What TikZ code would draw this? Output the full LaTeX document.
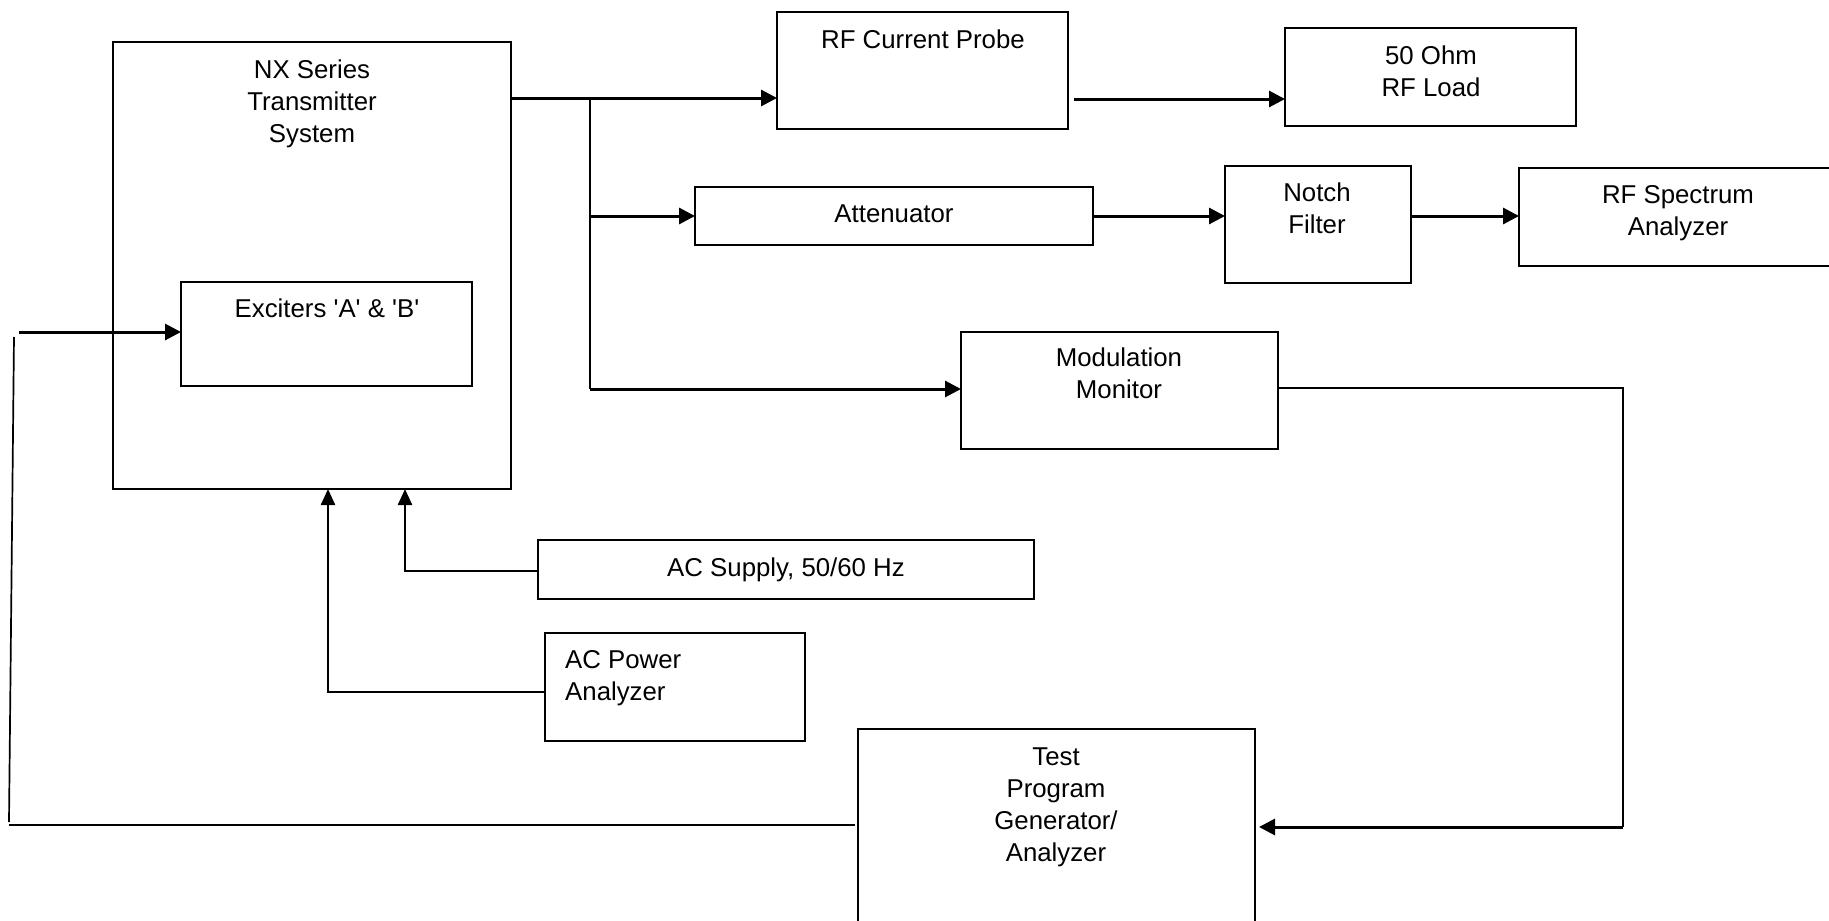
\documentclass[tikz,border=0pt]{standalone}
\usepackage{fontspec}
\setmainfont{Liberation Sans}[Ligatures=TeXOff]
\usetikzlibrary{arrows.meta}
\begin{document}
\begin{tikzpicture}[x=1pt,y=-1pt,
  box/.style={draw,line width=2pt,inner sep=0pt,outer sep=0pt},
  lbl/.style={font=\fontsize{25.8}{31.7}\selectfont,align=center,inner sep=0pt,anchor=base},
  lbll/.style={font=\fontsize{25.8}{31.7}\selectfont,align=left,inner sep=0pt,anchor=base west},
  arr/.style={-{Triangle[length=16pt,width=16pt]},line width=3pt},
  ln/.style={line width=2.4pt},
  thin/.style={line width=1.7pt}]
\useasboundingbox (0,0) rectangle (1829,921);
% boxes
\node[box,minimum width=398pt,minimum height=447pt] (nx) at (312,265.5) {};
\node[box,minimum width=291pt,minimum height=104pt] (exc) at (326.5,334) {};
\node[box,minimum width=291pt,minimum height=117pt] (probe) at (922.5,70.5) {};
\node[box,minimum width=291pt,minimum height=98pt] (load) at (1430.5,77) {};
\node[box,minimum width=398pt,minimum height=58pt] (att) at (894,216) {};
\node[box,minimum width=186pt,minimum height=117pt] (notch) at (1318,224.5) {};
\node[box,minimum width=326pt,minimum height=98pt] (spec) at (1682,217) {};
\node[box,minimum width=317pt,minimum height=117pt] (mm) at (1119.5,390.5) {};
\node[box,minimum width=496pt,minimum height=59pt] (acs) at (786,569.5) {};
\node[box,minimum width=260pt,minimum height=108pt] (acp) at (675,687) {};
\node[box,minimum width=397pt,minimum height=221pt] (tpg) at (1056.5,839.5) {};
% labels (anchor = baseline of the last line)
\node[lbl] (tnx) at (312,142) {NX Series\\Transmitter\\System};
\node[lbl] (texc) at (327,317) {Exciters 'A' \& 'B'};
\node[lbl] (tprobe) at (923,48) {RF Current Probe};
\node[lbl] (tload) at (1431,96) {50 Ohm\\RF Load};
\node[lbl] (tatt) at (894,222) {Attenuator};
\node[lbl] (tnotch) at (1317,233) {Notch\\Filter};
\node[lbl] (tspec) at (1678,235) {RF Spectrum\\Analyzer};
\node[lbl] (tmm) at (1119,398) {Modulation\\Monitor};
\node[lbl] (tacs) at (786,576) {AC Supply, 50/60 Hz};
\node[lbll] (tacp) at (565,700) {AC Power\\Analyzer};
\node[lbl] (ttpg) at (1056,861) {Test\\Program\\Generator/\\Analyzer};
% connector points
\coordinate (o1) at (511,98);
\coordinate (br) at (590,98);
\coordinate (b1) at (590,216);
\coordinate (b2) at (590,389);
\coordinate (p1) at (1074,99);
\coordinate (m1) at (1623,388);
\coordinate (m2) at (1623,827);
\coordinate (m3) at (1259,827);
\coordinate (t1) at (855,825);
\coordinate (t2) at (9,825);
\coordinate (t3) at (9,822);
\coordinate (t4) at (14,337);
\coordinate (e1) at (19,332);
\coordinate (s1) at (405,571);
\coordinate (a1) at (328,692);
% connectors
\draw[arr] (o1) -- (o1 -| probe.west);
\draw[ln] (br) -- (b2);
\draw[arr] (b1) -- (b1 -| att.west);
\draw[arr] (b2) -- (b2 -| mm.west);
\draw[arr] (p1) -- (p1 -| load.west);
\draw[arr] (att.east) -- (att.east -| notch.west);
\draw[arr] (att.east -| notch.east) -- (att.east -| spec.west);
\draw[thin] (m1 -| mm.east) -- (m1) -- (m2);
\draw[arr] (m2) -- (m3);
\draw[thin] (t1) -- (t2);
\draw[thin] (t3) -- (t4);
\draw[arr] (e1) -- (e1 -| exc.west);
\draw[ln,-{Triangle[length=16pt,width=14pt]}] (acs.west |- s1) -- (s1) -- (s1 |- nx.south);
\draw[ln,-{Triangle[length=16pt,width=14pt]}] (acp.west |- a1) -- (a1) -- (a1 |- nx.south);
\end{tikzpicture}
\end{document}
